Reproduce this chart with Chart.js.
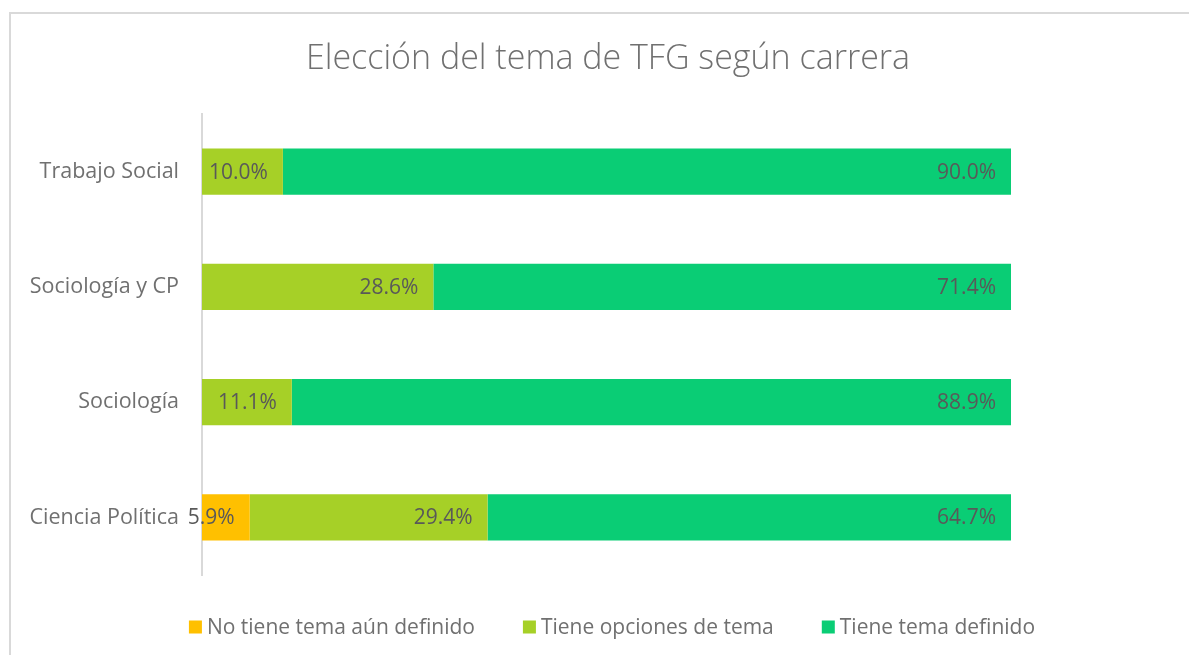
<!DOCTYPE html>
<html>
<head>
<meta charset="utf-8">
<script src="https://cdn.jsdelivr.net/npm/chart.js@4.4.1/dist/chart.umd.min.js"></script>
<style>
  html, body { margin: 0; padding: 0; background: #fff; overflow: hidden; }
  body { width: 1189px; height: 655px; position: relative; }
  #frame {
    position: absolute; left: 9px; top: 12px;
    width: 1196px; height: 650px;
    border-left: 2px solid #d9d9d9; border-top: 2px solid #d9d9d9;
    box-sizing: border-box;
  }
  #wrap { position: absolute; left: 1px; top: 1px; width: 1192px; height: 642px; }
</style>
</head>
<body>
<div id="frame"><div id="wrap"><canvas id="c"></canvas></div></div>
<script>
// Carreras (de arriba hacia abajo) y porcentajes por situación del tema
const categories = ['Trabajo Social', 'Sociología y CP', 'Sociología', 'Ciencia Política'];
const seriesNames = ['No tiene tema aún definido', 'Tiene opciones de tema', 'Tiene tema definido'];
const sinTema = [null, null, null, 5.9];
const opcionesTema = [10.0, 28.6, 11.1, 29.4];
const temaDefinido = [90.0, 71.4, 88.9, 64.7];
const seriesColors = ['#FFC000', '#A6D027', '#0ACD75'];
const chartTitle = 'Elección del tema de TFG según carrera';

const FONT = '"Open Sans", Lato, sans-serif';
const TEXT_GREY = '#707070';
const LABEL_GREY = '#595959';

// Título centrado sobre todo el lienzo
const topTitle = {
  id: 'topTitle',
  afterDraw(chart) {
    const ctx = chart.ctx;
    ctx.save();
    ctx.font = '300 34px ' + FONT;
    ctx.fillStyle = TEXT_GREY;
    ctx.textAlign = 'center';
    ctx.textBaseline = 'middle';
    ctx.fillText(chartTitle, chart.width / 2, 44);
    ctx.restore();
  }
};

// Etiquetas de valor dentro del extremo derecho de cada segmento
const valueLabels = {
  id: 'valueLabels',
  afterDatasetsDraw(chart) {
    const ctx = chart.ctx;
    ctx.save();
    ctx.font = '21px ' + FONT;
    ctx.fillStyle = LABEL_GREY;
    ctx.textAlign = 'right';
    ctx.textBaseline = 'middle';
    chart.data.datasets.forEach((ds, i) => {
      const meta = chart.getDatasetMeta(i);
      meta.data.forEach((el, j) => {
        const v = ds.data[j];
        if (v === null || v === undefined) return;
        ctx.fillText(v.toFixed(1) + '%', el.x - 15, el.y + 1);
      });
    });
    ctx.restore();
  }
};

// Leyenda inferior con cuadros de color
const bottomLegend = {
  id: 'bottomLegend',
  afterDraw(chart) {
    const ctx = chart.ctx;
    ctx.save();
    ctx.font = '21px ' + FONT;
    ctx.textBaseline = 'middle';
    ctx.textAlign = 'left';
    const box = 13, gapText = 5, gapItem = 48;
    const items = chart.data.datasets.map(ds => ({
      text: ds.label, color: ds.backgroundColor,
      w: box + gapText + ctx.measureText(ds.label).width
    }));
    const total = items.reduce((s, it) => s + it.w, 0) + gapItem * (items.length - 1);
    let x = (chart.width - total) / 2 + 4;
    const y = 612;
    items.forEach(it => {
      ctx.fillStyle = it.color;
      ctx.fillRect(x, y - box / 2, box, box);
      ctx.fillStyle = TEXT_GREY;
      ctx.fillText(it.text, x + box + gapText, y + 1);
      x += it.w + gapItem;
    });
    ctx.restore();
  }
};

const dataArrays = [sinTema, opcionesTema, temaDefinido];

new Chart(document.getElementById('c'), {
  type: 'bar',
  data: {
    labels: categories,
    datasets: seriesNames.map((name, i) => ({
      label: name,
      data: dataArrays[i],
      backgroundColor: seriesColors[i],
      borderWidth: 0,
      barPercentage: 0.4,
      categoryPercentage: 1.0
    }))
  },
  options: {
    indexAxis: 'y',
    responsive: true,
    maintainAspectRatio: false,
    animation: false,
    layout: { padding: { left: 0, right: 193, top: 99, bottom: 82 } },
    plugins: {
      legend: { display: false },
      tooltip: { enabled: false },
      title: { display: false }
    },
    scales: {
      x: {
        stacked: true,
        min: 0, max: 100,
        display: false
      },
      y: {
        stacked: true,
        grid: { display: false, drawTicks: false },
        border: { display: true, color: '#d9d9d9', width: 2 },
        ticks: {
          color: TEXT_GREY,
          padding: 23,
          font: { family: FONT, size: 21.5 }
        },
        afterFit(scale) { scale.width = 190; }
      }
    }
  },
  plugins: [valueLabels, bottomLegend, topTitle]
});
</script>
</body>
</html>
